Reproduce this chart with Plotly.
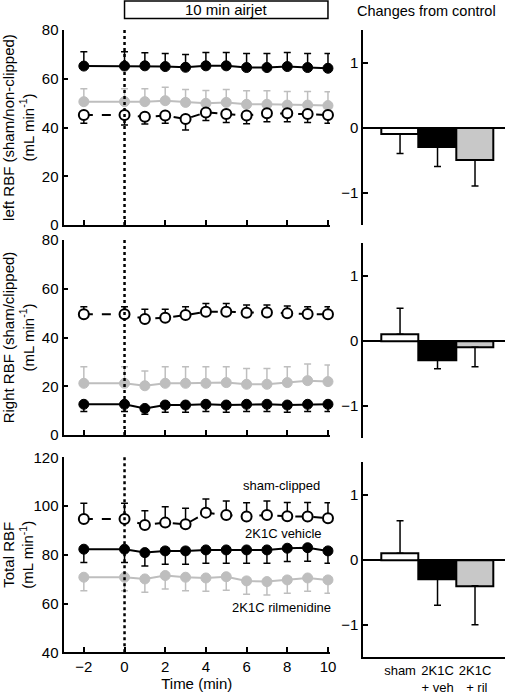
import plotly.graph_objects as go

# ---------------- data ----------------
time_min = [-2, 0, 1, 2, 3, 4, 5, 6, 7, 8, 9, 10]

left_sham = [45.1, 45.1, 44.4, 44.9, 43.5, 46.2, 45.5, 44.9, 45.8, 45.8, 45.5, 45.1]
left_sham_sem = [3.4, 4.1, 3.0, 3.2, 4.5, 3.3, 3.5, 3.4, 3.4, 3.4, 3.5, 3.4]
left_veh = [65.2, 65.2, 65.3, 65.0, 64.7, 65.3, 65.3, 64.6, 64.6, 65.0, 64.6, 64.3]
left_veh_sem = [5.9, 5.9, 5.4, 5.4, 5.3, 5.5, 5.5, 5.8, 5.8, 5.8, 5.8, 6.1]
left_ril = [50.6, 50.6, 50.6, 51.0, 50.3, 49.9, 50.3, 49.5, 49.5, 49.2, 49.2, 49.0]
left_ril_sem = [5.3, 5.3, 5.3, 5.5, 5.3, 5.3, 5.3, 5.6, 5.6, 5.6, 5.6, 5.7]

right_sham = [49.5, 49.5, 47.6, 48.1, 49.2, 50.6, 50.6, 50.2, 50.3, 49.9, 49.6, 49.5]
right_sham_sem = [3.1, 3.1, 4.0, 3.5, 3.4, 3.4, 3.4, 3.1, 3.0, 3.0, 3.0, 3.1]
right_veh = [12.6, 12.6, 10.9, 12.3, 12.3, 12.6, 12.3, 12.6, 12.6, 12.3, 12.6, 12.6]
right_veh_sem = [3.0, 3.0, 2.4, 3.0, 3.0, 3.0, 3.0, 3.0, 3.0, 3.0, 3.0, 3.0]
right_ril = [21.2, 21.2, 20.2, 21.2, 21.2, 21.2, 21.5, 20.8, 20.8, 21.5, 22.3, 21.9]
right_ril_sem = [6.8, 6.8, 6.1, 6.8, 6.8, 6.8, 6.5, 6.5, 6.5, 6.5, 6.8, 6.8]

total_sham = [94.7, 94.7, 92.2, 93.2, 92.5, 97.3, 96.3, 95.7, 96.3, 95.8, 95.7, 95.0]
total_sham_sem = [6.4, 6.4, 5.9, 6.5, 6.6, 5.6, 5.8, 5.7, 5.8, 5.7, 5.8, 6.4]
total_veh = [82.3, 82.3, 80.9, 81.6, 81.6, 82.0, 82.0, 82.0, 82.0, 82.7, 82.9, 81.6]
total_veh_sem = [5.5, 5.5, 5.5, 5.5, 5.5, 5.5, 5.5, 5.5, 5.5, 5.5, 5.5, 5.1]
total_ril = [70.8, 70.8, 70.1, 71.5, 70.8, 70.5, 71.0, 69.3, 69.0, 69.7, 70.5, 69.7]
total_ril_sem = [5.5, 5.5, 5.5, 5.5, 5.5, 5.5, 5.5, 5.5, 5.5, 5.5, 5.5, 5.5]

bar_groups = ["sham", "2K1C<br>+ veh", "2K1C<br> + ril"]
left_change = [-0.1, -0.3, -0.5]
left_change_err = [0.3, 0.3, 0.4]
right_change = [0.1, -0.3, -0.1]
right_change_err = [0.4, 0.13, 0.3]
total_change = [0.1, -0.3, -0.4]
total_change_err = [0.5, 0.4, 0.6]

# ---------------- styles ----------------
BLACK = "black"
GRAY = "#bebebe"
BARGRAY = "#c8c8c8"
FONT = "Liberation Sans, Arial, sans-serif"
W, H = 505, 697


def py(px):
    return 1 - px / H


def px_x(px):
    return px / W


fig = go.Figure()


def add_series(xa, ya, y, sem, kind, direction):
    if kind == "sham":
        line = dict(color=BLACK, width=2, dash="dash")
        marker = dict(size=10, color="white", line=dict(color=BLACK, width=2))
        ecol = BLACK
    elif kind == "veh":
        line = dict(color=BLACK, width=2)
        marker = dict(size=10, color=BLACK, line=dict(color=BLACK, width=1))
        ecol = BLACK
    else:
        line = dict(color=GRAY, width=2)
        marker = dict(size=10, color=GRAY, line=dict(color=GRAY, width=1))
        ecol = GRAY
    zeros = [0] * len(sem)
    err = dict(type="data", symmetric=False,
               array=sem if direction == "up" else zeros,
               arrayminus=sem if direction == "down" else zeros,
               color=ecol, thickness=1.5, width=3.5)
    fig.add_trace(go.Scatter(x=time_min, y=y, mode="lines+markers", line=line,
                             marker=marker, error_y=err, xaxis=xa, yaxis=ya,
                             showlegend=False, cliponaxis=False))


# left RBF
add_series("x", "y", left_ril, left_ril_sem, "ril", "up")
add_series("x", "y", left_veh, left_veh_sem, "veh", "up")
add_series("x", "y", left_sham, left_sham_sem, "sham", "down")
# right RBF
add_series("x2", "y2", right_ril, right_ril_sem, "ril", "up")
add_series("x2", "y2", right_veh, right_veh_sem, "veh", "down")
add_series("x2", "y2", right_sham, right_sham_sem, "sham", "up")
# total RBF
add_series("x3", "y3", total_ril, total_ril_sem, "ril", "down")
add_series("x3", "y3", total_veh, total_veh_sem, "veh", "down")
add_series("x3", "y3", total_sham, total_sham_sem, "sham", "up")


def add_bars(xa, ya, vals, errs):
    up = [e if v >= 0 else 0 for v, e in zip(vals, errs)]
    dn = [e if v < 0 else 0 for v, e in zip(vals, errs)]
    fig.add_trace(go.Bar(x=bar_groups, y=vals, xaxis=xa, yaxis=ya, width=1,
                         marker=dict(color=["white", BLACK, BARGRAY],
                                     line=dict(color=BLACK, width=2)),
                         error_y=dict(type="data", symmetric=False, array=up,
                                      arrayminus=dn, color=BLACK,
                                      thickness=1.5, width=3.5),
                         showlegend=False))


add_bars("x4", "y4", left_change, left_change_err)
add_bars("x5", "y5", right_change, right_change_err)
add_bars("x6", "y6", total_change, total_change_err)

# ---------------- axes ----------------
tickfont = dict(family=FONT, size=15, color=BLACK)
left_x_dom = [px_x(63.5), px_x(330)]
right_x_dom = [px_x(363.3), 1.0]

left_dom_y = {
    "": [py(225), py(30)],
    "2": [py(435), py(240)],
    "3": [py(652.3), py(457.3)],
}
right_dom_y = {
    "4": [py(225), py(30)],
    "5": [py(438.3), py(243.3)],
    "6": [py(657.3), py(462.3)],
}

ytitles = {
    "": "left RBF (sham/non-clipped)<br>(mL min<sup>-1</sup>)",
    "2": "Right RBF (sham/clipped)<br>(mL min<sup>-1</sup>)",
    "3": "Total RBF<br>(mL min<sup>-1</sup>)",
}
yranges = {"": [0, 80], "2": [0, 80], "3": [40, 120]}

layout = {}
for k in ["", "2", "3"]:
    layout["xaxis" + k] = dict(
        domain=left_x_dom, anchor="y" + k, range=[-3, 10.1],
        tickmode="array", tickvals=[-2, 0, 2, 4, 6, 8, 10],
        ticks="inside", ticklen=5, tickwidth=2, tickcolor=BLACK,
        showticklabels=(k == "3"), showline=True, linewidth=2, linecolor=BLACK,
        showgrid=False, zeroline=False, tickfont=tickfont, automargin=False,
        title=dict(text="Time (min)" if k == "3" else "",
                   font=dict(family=FONT, size=15, color=BLACK), standoff=0),
    )
    layout["yaxis" + k] = dict(
        domain=left_dom_y[k], anchor="x" + k, range=yranges[k], dtick=20,
        ticks="inside", ticklen=4, tickwidth=2, tickcolor=BLACK,
        showline=True, linewidth=2, linecolor=BLACK, showgrid=False,
        zeroline=False, tickfont=tickfont, automargin=False,
        title=dict(text=ytitles[k], font=dict(family=FONT, size=15, color=BLACK),
                   standoff=4),
    )

for k in ["4", "5", "6"]:
    layout["xaxis" + k] = dict(
        domain=right_x_dom, anchor="y" + k, range=[-0.98, 2.8],
        showline=(k == "6"), linewidth=2, linecolor=BLACK,
        showticklabels=(k == "6"), ticks="", showgrid=False, zeroline=False,
        tickfont=dict(family=FONT, size=13, color=BLACK), automargin=False,
    )
    layout["yaxis" + k] = dict(
        domain=right_dom_y[k], anchor="x" + k, range=[-1.5, 1.5],
        tickmode="array", tickvals=[-1, 0, 1],
        ticks="inside", ticklen=5, tickwidth=2, tickcolor=BLACK,
        showline=True, linewidth=2, linecolor=BLACK, showgrid=False,
        zeroline=True, zerolinecolor=BLACK, zerolinewidth=2, tickfont=tickfont,
        automargin=False,
    )

fig.update_layout(**layout)

# dotted line at airjet onset
shapes = []
for k in ["", "2", "3"]:
    shapes.append(dict(type="line", xref="x" + k, yref=("y" + k) + " domain",
                       x0=0, x1=0, y0=0, y1=1, layer="above",
                       line=dict(color=BLACK, width=2.5, dash="dot")))
# airjet box
shapes.append(dict(type="rect", xref="x", yref="paper", x0=0, x1=10,
                   y0=py(18.5), y1=py(1), line=dict(color=BLACK, width=1.5),
                   fillcolor="white", layer="below"))


def ann(text, xref, x, ypx, size):
    return dict(text=text, xref=xref, yref="paper", x=x, y=py(ypx),
                xanchor="center", yanchor="middle", showarrow=False,
                font=dict(family=FONT, size=size, color=BLACK))


annotations = [
    ann("10 min airjet", "x", 5, 9.5, 15),
    ann("Changes from control", "paper", px_x(426.7), 11, 14.5),
    ann("sham-clipped", "paper", px_x(281.7), 485, 13),
    ann("2K1C vehicle", "paper", px_x(283), 533, 13),
    ann("2K1C rilmenidine", "paper", px_x(281), 607, 13),
]

fig.update_layout(
    width=W, height=H, margin=dict(l=0, r=0, t=0, b=0, autoexpand=False),
    paper_bgcolor="white", plot_bgcolor="white",
    shapes=shapes, annotations=annotations, bargap=0,
    font=dict(family=FONT, size=14, color=BLACK),
)

fig.write_html("out.html", config={"displayModeBar": False},
               post_script="document.body.style.margin='0';"
                           "document.body.style.overflow='hidden';")
